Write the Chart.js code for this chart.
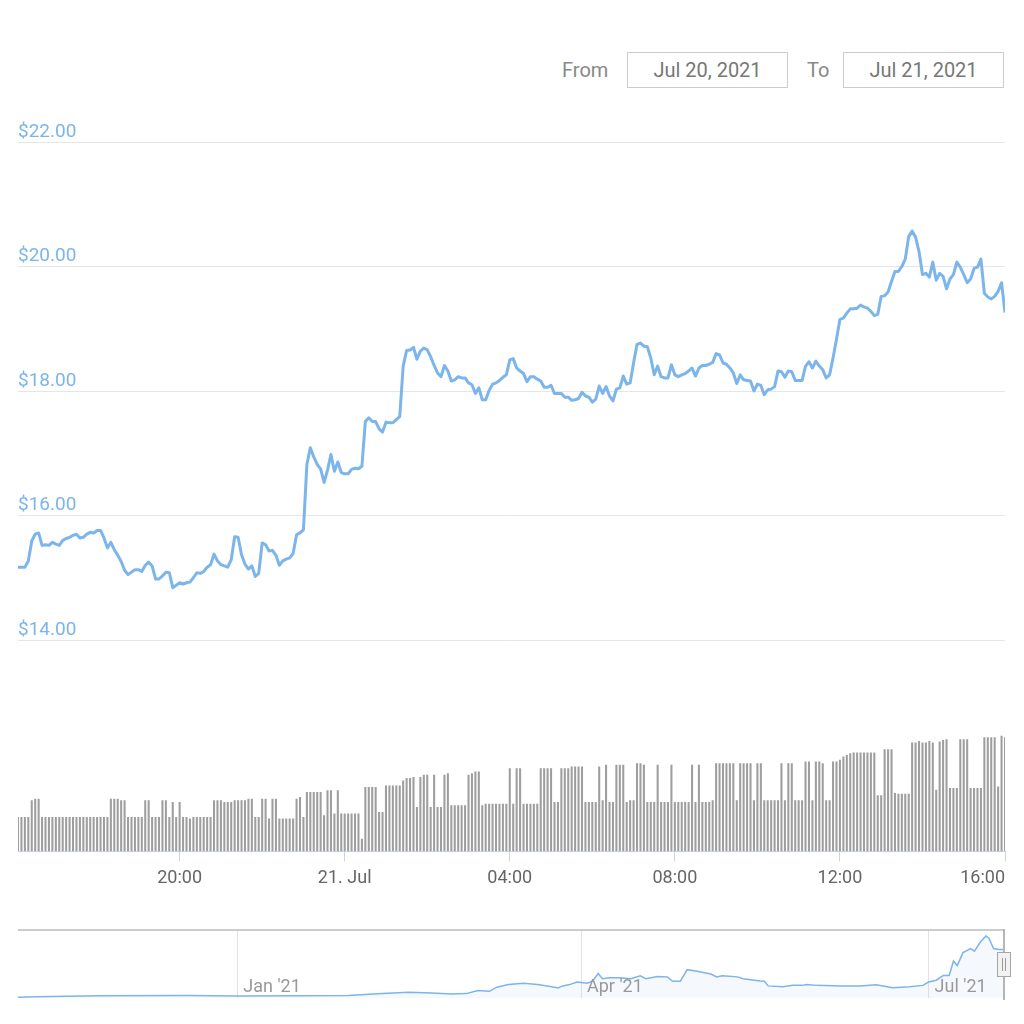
<!DOCTYPE html>
<html>
<head>
<meta charset="utf-8">
<script src="https://cdn.jsdelivr.net/npm/chart.js@4.4.0/dist/chart.umd.min.js"></script>
<style>
  html, body { margin: 0; padding: 0; background: #fff; }
  body { width: 1024px; height: 1024px; position: relative; overflow: hidden; font-family: Roboto, "Noto Sans", sans-serif; }
  .lbl { position: absolute; top: 52px; height: 36px; line-height: 36px; font-size: 20px; color: #888; }
  .box { position: absolute; top: 52px; height: 34px; line-height: 34px; border: 1px solid #ccc; font-size: 20px; color: #777; text-align: center; }
  canvas { position: absolute; left: 0; }
</style>
</head>
<body>
<div class="lbl" style="left:562px">From</div>
<div class="box" style="left:627px;width:159px">Jul 20, 2021</div>
<div class="lbl" style="left:807px">To</div>
<div class="box" style="left:843px;width:159px">Jul 21, 2021</div>

<canvas id="price" width="1024" height="660" style="top:0"></canvas>
<canvas id="volume" width="1024" height="200" style="top:707px"></canvas>
<canvas id="navigator" width="1024" height="90" style="top:920px"></canvas>

<script>
// 5-minute samples, 20 Jul 16:05 -> 21 Jul 16:00 (one row = one hour)
const prices = [
  15.17, 15.17, 15.17, 15.27, 15.59, 15.70, 15.72, 15.52, 15.53, 15.52, 15.57, 15.54,
  15.52, 15.60, 15.63, 15.65, 15.68, 15.70, 15.64, 15.65, 15.70, 15.73, 15.72, 15.76,
  15.76, 15.64, 15.48, 15.57, 15.45, 15.36, 15.26, 15.12, 15.05, 15.09, 15.13, 15.13,
  15.10, 15.20, 15.25, 15.19, 14.98, 14.98, 15.03, 15.09, 15.08, 14.84, 14.88, 14.92,
  14.90, 14.92, 14.93, 15.00, 15.08, 15.07, 15.10, 15.17, 15.21, 15.38, 15.27, 15.21,
  15.19, 15.17, 15.29, 15.66, 15.65, 15.37, 15.22, 15.14, 15.19, 15.02, 15.07, 15.56,
  15.53, 15.43, 15.44, 15.36, 15.20, 15.27, 15.30, 15.32, 15.39, 15.69, 15.72, 15.77,
  16.82, 17.09, 16.94, 16.82, 16.75, 16.53, 16.73, 16.98, 16.71, 16.86, 16.69, 16.67,
  16.67, 16.74, 16.76, 16.75, 16.79, 17.51, 17.57, 17.51, 17.51, 17.39, 17.34, 17.50,
  17.49, 17.49, 17.54, 17.59, 18.40, 18.65, 18.66, 18.70, 18.51, 18.64, 18.69, 18.66,
  18.55, 18.41, 18.29, 18.23, 18.41, 18.32, 18.16, 18.18, 18.23, 18.21, 18.21, 18.13,
  18.10, 17.96, 18.05, 17.86, 17.86, 18.01, 18.11, 18.13, 18.17, 18.22, 18.26, 18.50,
  18.52, 18.37, 18.32, 18.28, 18.15, 18.23, 18.23, 18.19, 18.16, 18.06, 18.06, 18.09,
  17.96, 17.96, 17.96, 17.90, 17.90, 17.85, 17.86, 17.88, 17.98, 17.92, 17.90, 17.82,
  17.87, 18.08, 17.96, 18.07, 17.92, 17.84, 18.03, 18.05, 18.24, 18.11, 18.13, 18.45,
  18.75, 18.77, 18.72, 18.71, 18.53, 18.26, 18.40, 18.23, 18.21, 18.21, 18.42, 18.26,
  18.23, 18.26, 18.28, 18.32, 18.37, 18.24, 18.37, 18.41, 18.41, 18.43, 18.46, 18.60,
  18.58, 18.45, 18.43, 18.37, 18.29, 18.12, 18.26, 18.18, 18.17, 18.16, 18.00, 18.11,
  18.09, 17.94, 18.02, 18.03, 18.07, 18.32, 18.31, 18.22, 18.32, 18.31, 18.17, 18.17,
  18.17, 18.40, 18.47, 18.37, 18.48, 18.40, 18.34, 18.21, 18.26, 18.53, 18.83, 19.15,
  19.17, 19.25, 19.32, 19.32, 19.33, 19.38, 19.35, 19.33, 19.28, 19.21, 19.23, 19.52,
  19.53, 19.59, 19.76, 19.92, 19.92, 20.00, 20.12, 20.48, 20.57, 20.47, 20.24, 19.87,
  19.89, 19.83, 20.07, 19.78, 19.89, 19.84, 19.64, 19.80, 19.87, 20.07, 19.99, 19.87,
  19.74, 19.80, 19.97, 19.99, 20.12, 19.57, 19.51, 19.48, 19.52, 19.60, 19.74, 19.26
];

// volume, $M
const volumes = [
  104, 104, 104, 104, 154, 159, 159, 104, 104, 104, 104, 104,
  104, 104, 104, 104, 104, 104, 104, 104, 104, 104, 104, 104,
  104, 104, 104, 159, 159, 159, 154, 154, 104, 104, 104, 104,
  104, 154, 154, 104, 104, 104, 154, 154, 104, 149, 104, 149,
  104, 104, 99, 104, 104, 104, 104, 104, 104, 154, 154, 154,
  149, 149, 149, 154, 154, 154, 154, 159, 159, 104, 104, 159,
  159, 99, 159, 159, 99, 99, 99, 99, 99, 159, 164, 104,
  179, 179, 179, 179, 179, 109, 184, 184, 114, 184, 114, 114,
  114, 114, 114, 114, 38, 194, 194, 194, 194, 119, 119, 199,
  199, 199, 199, 199, 214, 221, 221, 224, 134, 224, 231, 231,
  134, 231, 134, 134, 231, 236, 139, 139, 139, 139, 139, 231,
  236, 241, 241, 139, 144, 144, 144, 144, 144, 144, 144, 251,
  144, 251, 251, 144, 144, 144, 144, 144, 251, 251, 251, 251,
  149, 149, 251, 251, 251, 256, 256, 256, 256, 149, 149, 149,
  149, 256, 154, 261, 149, 149, 261, 261, 261, 149, 154, 154,
  266, 266, 261, 149, 149, 149, 261, 149, 149, 149, 261, 149,
  149, 149, 149, 149, 261, 149, 261, 149, 149, 149, 154, 266,
  266, 266, 266, 266, 266, 154, 266, 266, 266, 266, 154, 266,
  266, 154, 154, 154, 154, 154, 266, 154, 266, 266, 154, 154,
  154, 271, 271, 154, 271, 271, 266, 154, 154, 271, 271, 276,
  286, 291, 296, 298, 298, 298, 298, 298, 298, 298, 169, 169,
  308, 308, 308, 176, 174, 174, 174, 174, 328, 328, 333, 328,
  328, 333, 328, 186, 331, 336, 338, 191, 191, 191, 338, 338,
  338, 191, 191, 191, 191, 344, 344, 344, 344, 196, 349, 344
];

// navigator: days from 1 Jan 2021, price
const navDays = [
  -57.4, -53, -36, -13, 0, 16, 29, 38, 45, 51, 56, 60, 63, 66, 68, 71, 75, 78.6,
  82, 84, 85, 87, 89, 91.6, 93, 94.5, 95.6, 97.5, 100, 103, 105.5, 107, 110, 112.6,
  114, 116, 117.8, 120.4, 124, 125.5, 127, 131, 132.4, 137, 138, 139, 142.8, 145.5,
  148, 149, 151.7, 158.5, 163, 167.3, 171.6, 176, 179.5, 181, 183, 184.8, 186.4,
  187.5, 188.5, 190, 192, 193, 194.6, 196, 196.8, 198, 199.4, 201
];
const navValues = [
  0.3, 0.5, 0.9, 1.0, 0.8, 0.9, 1.0, 1.7, 2.2, 1.9, 1.6, 1.7, 2.9, 2.6, 4.2, 5.2, 5.7, 5.2,
  4.5, 3.9, 4.6, 5.2, 6.2, 5.7, 6.5, 9.5, 7.5, 7.9, 7.9, 7.5, 8.6, 7.5, 8.3, 8.2,
  6.5, 6.5, 11.0, 10.4, 9.3, 8.2, 8.6, 8.2, 7.5, 6.6, 6.5, 4.7, 4.4, 4.9,
  4.9, 5.2, 4.9, 4.7, 4.7, 5.1, 4.0, 4.4, 4.9, 6.2, 6.9, 8.7, 8.7,
  14.3, 12.6, 17.6, 19.2, 18.2, 21.8, 24.1, 23.2, 19.2, 18.8, 18.8
];
const navTicks = [0, 90, 181];
const navTickLabels = ["Jan '21", "Apr '21", "Jul '21"];

const priceTicks = [14, 16, 18, 20, 22];
const timeTicks = [965, 1200, 1440, 1680, 1920, 2160, 2400]; // minutes from 20 Jul 00:00

const startMinute = 965;
const minutes = prices.map((_, i) => startMinute + i * 5);

Chart.defaults.font.family = "Roboto, 'Noto Sans', sans-serif";
Chart.defaults.animation = false;
Chart.defaults.plugins.legend.display = false;
Chart.defaults.plugins.tooltip.enabled = false;

function timeLabel(v) {
    if (v === startMinute) return "";
    if (v % 1440 === 0) return (20 + v / 1440) + ". Jul";
    const h = Math.floor((v % 1440) / 60);
    return String(h).padStart(2, "0") + ":00";
}

new Chart(document.getElementById("price"), {
    type: "line",
    data: {
        datasets: [{
            data: prices.map((p, i) => ({ x: minutes[i], y: p })),
            borderColor: "#7cb5ec",
            borderWidth: 3,
            pointRadius: 0,
            tension: 0,
            borderJoinStyle: "round"
        }]
    },
    options: {
        responsive: false,
        layout: { padding: { left: 18, right: 19, top: 142, bottom: 20 } },
        scales: {
            x: { type: "linear", min: 965, max: 2400, display: false },
            y: {
                min: 14,
                max: 22,
                afterBuildTicks: (scale) => { scale.ticks = priceTicks.map(v => ({ value: v })); },
                border: { display: false },
                grid: { color: "#e6e6e6", lineWidth: 1, drawTicks: false },
                ticks: {
                    mirror: true,
                    padding: 0,
                    labelOffset: -10,
                    color: "#7cb5ec",
                    font: { size: 19 },
                    callback: (v) => "$" + Number(v).toFixed(2)
                }
            }
        }
    }
});

new Chart(document.getElementById("volume"), {
    type: "bar",
    data: {
        datasets: [{
            data: volumes.map((v, i) => ({ x: minutes[i], y: v })),
            backgroundColor: "#9e9e9e",
            categoryPercentage: 1,
            barPercentage: 0.6
        }]
    },
    options: {
        responsive: false,
        layout: { padding: { left: 18, right: 19, top: 25, bottom: 12 } },
        scales: {
            x: {
                type: "linear",
                min: 965,
                max: 2400,
                offset: false,
                afterBuildTicks: (scale) => { scale.ticks = timeTicks.map(v => ({ value: v })); },
                border: { color: "#ccd6eb", width: 1 },
                grid: {
                    offset: false,
                    drawOnChartArea: false,
                    tickLength: 10,
                    tickColor: (ctx) => (ctx.tick && ctx.tick.value === startMinute) ? "rgba(0,0,0,0)" : "#ccd6eb"
                },
                ticks: {
                    align: "inner",
                    autoSkip: false,
                    maxRotation: 0,
                    padding: 6,
                    color: "#666",
                    font: { size: 18 },
                    callback: (v) => timeLabel(v)
                }
            },
            y: { min: 0, max: 360, display: false }
        }
    }
});

const navigatorDecor = {
    id: "navigatorDecor",
    afterDraw(chart) {
        const { ctx, chartArea } = chart;
        const xs = chart.scales.x;
        const right = xs.getPixelForValue(xs.max) - 1;
        ctx.save();
        ctx.fillStyle = "#999";
        ctx.font = "18px Roboto, 'Noto Sans', sans-serif";
        ctx.textBaseline = "alphabetic";
        navTicks.forEach((d, k) => {
            ctx.fillText(navTickLabels[k], xs.getPixelForValue(d) + 6, chartArea.bottom - 6);
        });
        ctx.strokeStyle = "#cccccc";
        ctx.lineWidth = 2;
        ctx.beginPath();
        ctx.moveTo(chartArea.left, chartArea.top - 1);
        ctx.lineTo(right, chartArea.top - 1);
        ctx.stroke();
        ctx.strokeStyle = "#b5b5b5";
        ctx.beginPath();
        ctx.moveTo(right, chartArea.top - 2);
        ctx.lineTo(right, chartArea.bottom + 2);
        ctx.stroke();
        const hy = chartArea.top + 21;
        ctx.fillStyle = "#f2f2f2";
        ctx.strokeStyle = "#a6a6a6";
        ctx.lineWidth = 1;
        ctx.fillRect(right - 7, hy, 14, 25);
        ctx.strokeRect(right - 6.5, hy + 0.5, 13, 24);
        ctx.strokeStyle = "#999";
        ctx.beginPath();
        ctx.moveTo(right - 1.5, hy + 6); ctx.lineTo(right - 1.5, hy + 19);
        ctx.moveTo(right + 1.5, hy + 6); ctx.lineTo(right + 1.5, hy + 19);
        ctx.stroke();
        ctx.restore();
    }
};

new Chart(document.getElementById("navigator"), {
    type: "line",
    data: {
        datasets: [{
            data: navValues.map((v, i) => ({ x: navDays[i], y: v })),
            borderColor: "#7cb5ec",
            borderWidth: 1.5,
            backgroundColor: "rgba(124,181,236,0.08)",
            fill: "origin",
            pointRadius: 0,
            tension: 0
        }]
    },
    options: {
        responsive: false,
        layout: { padding: { left: 18, right: 19, top: 11, bottom: 12 } },
        scales: {
            x: {
                type: "linear",
                min: -57.4,
                max: 201,
                afterBuildTicks: (scale) => { scale.ticks = navTicks.map(v => ({ value: v })); },
                border: { display: false },
                grid: { color: "#e3e3e3", drawTicks: false },
                ticks: { display: false }
            },
            y: { min: 0, max: 26, display: false }
        }
    },
    plugins: [navigatorDecor]
});
</script>
</body>
</html>
